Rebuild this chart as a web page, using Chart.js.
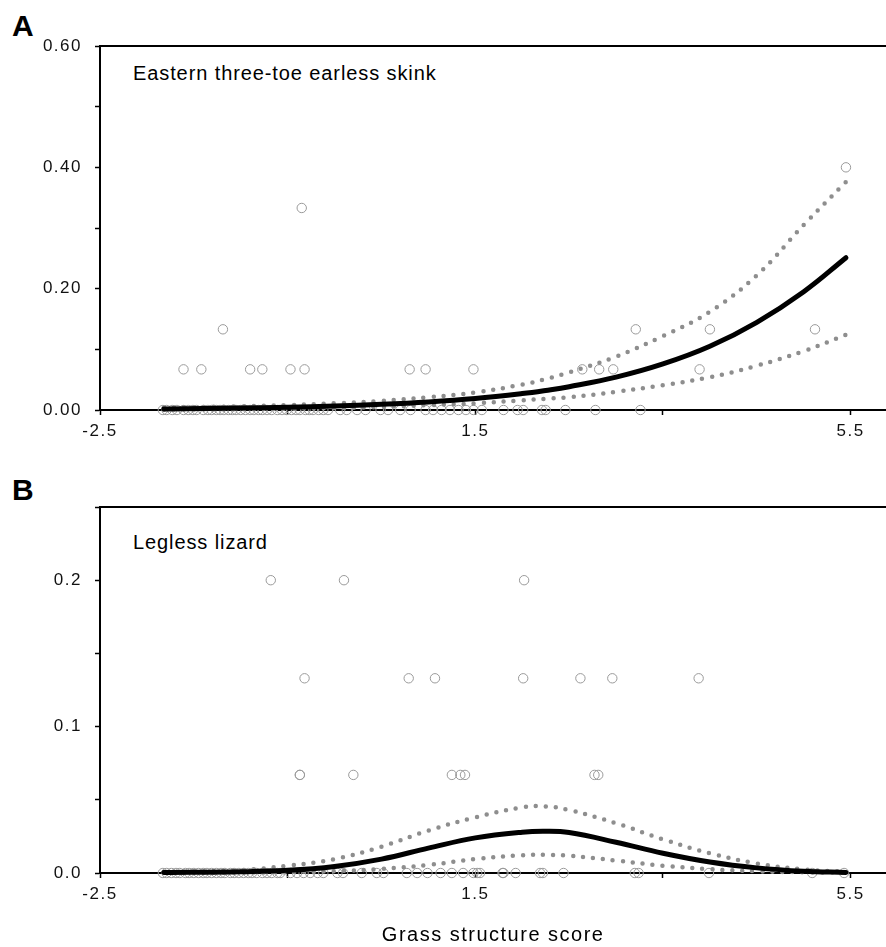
<!DOCTYPE html>
<html>
<head>
<meta charset="utf-8">
<script src="https://cdn.jsdelivr.net/npm/chart.js@4/dist/chart.umd.min.js"></script>
<style>
  html, body { margin: 0; padding: 0; background: #fff; overflow: hidden; }
  body { width: 886px; height: 947px; position: relative; font-family: 'Liberation Sans', Arial, sans-serif; color: #000; }
  canvas { position: absolute; left: 0; }
  #chart-a { top: 0; }
  #chart-b { top: 480px; }
  .letter { position: absolute; left: 12px; font-weight: bold; font-size: 30px; line-height: 1; }
  .caption { position: absolute; left: 133px; font-size: 20px; line-height: 1; letter-spacing: 0.9px; }
</style>
</head>
<body>
<div class="letter" style="top: 11px;">A</div>
<div class="letter" style="top: 475px;">B</div>
<div class="caption" style="top: 63px;">Eastern three-toe earless skink</div>
<div class="caption" style="top: 532px;">Legless lizard</div>
<canvas id="chart-a" width="892" height="480"></canvas>
<canvas id="chart-b" width="892" height="467"></canvas>
<script>
// Axis ticks
const xTicks = [-2.5, -0.5, 1.5, 3.5, 5.5];
const xLabelled = [-2.5, 1.5, 5.5];
const yTicksA = [0, 0.1, 0.2, 0.3, 0.4, 0.5, 0.6];
const yTicksB = [0, 0.05, 0.1, 0.15, 0.2, 0.25];

// Fitted curves (grass structure score -> detection rate)
const curveX = [-1.82, -1.0, -0.5, 0, 0.5, 1.0, 1.5, 2.0, 2.25, 2.5, 3.0, 3.5, 4.0, 4.5, 5.0, 5.45];
const skinkMean = [0.0018, 0.0032, 0.0046, 0.0065, 0.0093, 0.0133, 0.019, 0.0271, 0.0323, 0.0384, 0.0541, 0.0759, 0.105, 0.1445, 0.195, 0.251];
const skinkUpper = [0.004, 0.006, 0.008, 0.011, 0.015, 0.021, 0.029, 0.042, 0.051, 0.062, 0.088, 0.122, 0.162, 0.222, 0.305, 0.376];
const skinkLower = [0.0006, 0.0012, 0.002, 0.003, 0.005, 0.008, 0.011, 0.016, 0.0185, 0.021, 0.030, 0.041, 0.054, 0.073, 0.097, 0.124];
const lizardMean = [0.0003, 0.0008, 0.0018, 0.0045, 0.0095, 0.017, 0.024, 0.0279, 0.0285, 0.0276, 0.021, 0.0135, 0.0075, 0.0035, 0.0012, 0.0004];
const lizardUpper = [0.0008, 0.002, 0.005, 0.0095, 0.018, 0.029, 0.038, 0.0448, 0.0455, 0.043, 0.034, 0.023, 0.0135, 0.0065, 0.0025, 0.0008];
const lizardLower = [0.0001, 0.0003, 0.0006, 0.0013, 0.0028, 0.0055, 0.0095, 0.0121, 0.0124, 0.0118, 0.0085, 0.005, 0.0026, 0.0012, 0.0005, 0.0002];

// Observed sites, grouped by detection rate
const skinkAt0 = [-1.83, -1.79, -1.73, -1.68, -1.61, -1.56, -1.51, -1.47, -1.40, -1.35, -1.31, -1.26, -1.22, -1.18, -1.13, -1.09, -1.05, -1.00, -0.95, -0.90, -0.86, -0.81, -0.77, -0.72, -0.67, -0.61, -0.56, -0.51, -0.46, -0.41, -0.37, -0.31, -0.27, -0.23, -0.17, -0.12, -0.07, 0.06, 0.13, 0.24, 0.33, 0.49, 0.57, 0.70, 0.81, 0.97, 1.05, 1.14, 1.23, 1.32, 1.40, 1.48, 1.57, 1.80, 1.95, 2.01, 2.21, 2.25, 2.46, 2.78, 3.26];
const skinkAt067 = [-1.61, -1.42, -0.90, -0.77, -0.47, -0.32, 0.80, 0.97, 1.48, 2.64, 2.82, 2.97, 3.89];
const skinkAt133 = [-1.19, 3.21, 4.00, 5.12];
const skinkAt333 = [-0.35];
const skinkAt400 = [5.45];
const skinkRates = [0, 0.067, 0.133, 0.333, 0.4];

const lizardAt0 = [-1.83, -1.79, -1.74, -1.69, -1.65, -1.59, -1.55, -1.50, -1.45, -1.40, -1.36, -1.31, -1.26, -1.21, -1.17, -1.11, -1.07, -1.02, -0.97, -0.92, -0.88, -0.83, -0.77, -0.72, -0.67, -0.61, -0.58, -0.47, -0.40, -0.33, -0.26, -0.18, -0.12, 0.03, 0.09, 0.29, 0.45, 0.52, 0.77, 0.88, 0.99, 1.13, 1.25, 1.37, 1.48, 1.52, 1.55, 1.79, 1.80, 1.93, 2.19, 2.22, 2.44, 3.20, 3.24, 3.99, 5.09, 5.43];
const lizardAt067 = [-0.37, -0.37, 0.20, 1.25, 1.34, 1.39, 2.77, 2.81];
const lizardAt133 = [-0.32, 0.79, 1.07, 2.01, 2.62, 2.96, 3.88];
const lizardAt200 = [-0.68, 0.10, 2.02];
const lizardRates = [0, 0.067, 0.133, 0.2];

Chart.defaults.font.family = "'Liberation Sans', Arial, sans-serif";
Chart.defaults.color = '#000';

function curve(ys) {
  return curveX.map((x, i) => ({ x, y: ys[i] }));
}

function sites(groups, rates) {
  return groups.flatMap((xs, gi) => xs.map((x) => ({ x, y: rates[gi] })));
}

function lineSet(ys, dotted) {
  return {
    data: curve(ys),
    showLine: true,
    borderColor: dotted ? '#8e8e8e' : '#000',
    borderWidth: dotted ? 4.5 : 5,
    borderDash: dotted ? [0, 10] : [],
    borderCapStyle: 'round',
    tension: 0.4,
    pointRadius: 0,
    clip: false,
  };
}

function siteSet(points) {
  return {
    data: points,
    showLine: false,
    pointStyle: 'circle',
    pointRadius: 4.7,
    pointBackgroundColor: 'transparent',
    pointBorderColor: '#9a9a9a',
    pointBorderWidth: 1,
    clip: false,
  };
}

// Top frame line + spaced-out glyphs like the printed figure.
const frameTop = {
  id: 'frameTop',
  beforeDraw(chart) {
    chart.ctx.letterSpacing = '1.5px';
  },
  afterDraw(chart) {
    const { ctx, chartArea } = chart;
    ctx.save();
    ctx.strokeStyle = '#000';
    ctx.lineWidth = 2;
    ctx.beginPath();
    ctx.moveTo(chartArea.left, chartArea.top);
    ctx.lineTo(chartArea.right, chartArea.top);
    ctx.stroke();
    ctx.restore();
  },
};

function axisGrid() {
  return {
    display: true,
    drawOnChartArea: false,
    drawTicks: true,
    tickLength: 5,
    tickColor: '#000',
    tickWidth: 1.5,
    color: '#000',
  };
}

function makeChart(id, datasets, opts) {
  return new Chart(document.getElementById(id), {
    type: 'scatter',
    data: { datasets },
    options: {
      responsive: false,
      animation: false,
      events: [],
      layout: { padding: { top: opts.padTop, left: 0, right: 0, bottom: 0 } },
      plugins: { legend: { display: false }, tooltip: { enabled: false } },
      scales: {
        x: {
          type: 'linear',
          min: -2.5,
          max: 5.88,
          afterBuildTicks: (scale) => { scale.ticks = xTicks.map((v) => ({ value: v })); },
          afterFit: (scale) => { scale.height = opts.xHeight; },
          ticks: {
            autoSkip: false,
            maxRotation: 0,
            padding: 6,
            font: { size: 17 },
            color: '#111',
            callback: (v) => (xLabelled.includes(v) ? String(v) : ''),
          },
          grid: axisGrid(),
          border: { display: true, color: '#000', width: 2 },
          title: opts.xTitle
            ? { display: true, text: opts.xTitle, font: { size: 20, lineHeight: 1 }, padding: { top: 0, bottom: 2 }, color: '#000' }
            : { display: false },
        },
        y: {
          type: 'linear',
          min: 0,
          max: opts.yMax,
          afterBuildTicks: (scale) => { scale.ticks = opts.yTicks.map((v) => ({ value: v })); },
          afterFit: (scale) => { scale.width = 100; },
          ticks: {
            autoSkip: false,
            padding: 13,
            font: { size: 17 },
            color: '#111',
            callback: opts.yLabel,
          },
          grid: axisGrid(),
          border: { display: true, color: '#000', width: 2 },
        },
      },
    },
    plugins: [frameTop],
  });
}

makeChart('chart-a', [
  lineSet(skinkMean, false),
  lineSet(skinkUpper, true),
  lineSet(skinkLower, true),
  siteSet(sites([skinkAt0, skinkAt067, skinkAt133, skinkAt333, skinkAt400], skinkRates)),
], {
  padTop: 46,
  xHeight: 70,
  yMax: 0.6,
  yTicks: yTicksA,
  yLabel: (v) => (Math.round(v * 10) % 2 === 0 ? v.toFixed(2) : ''),
});

makeChart('chart-b', [
  lineSet(lizardMean, false),
  lineSet(lizardUpper, true),
  lineSet(lizardLower, true),
  siteSet(sites([lizardAt0, lizardAt067, lizardAt133, lizardAt200], lizardRates)),
], {
  padTop: 27,
  xHeight: 74,
  yMax: 0.25,
  yTicks: yTicksB,
  xTitle: 'Grass structure score',
  yLabel: (v) => (Math.round(v * 100) % 10 === 0 ? v.toFixed(1) : ''),
});
</script>
</body>
</html>
